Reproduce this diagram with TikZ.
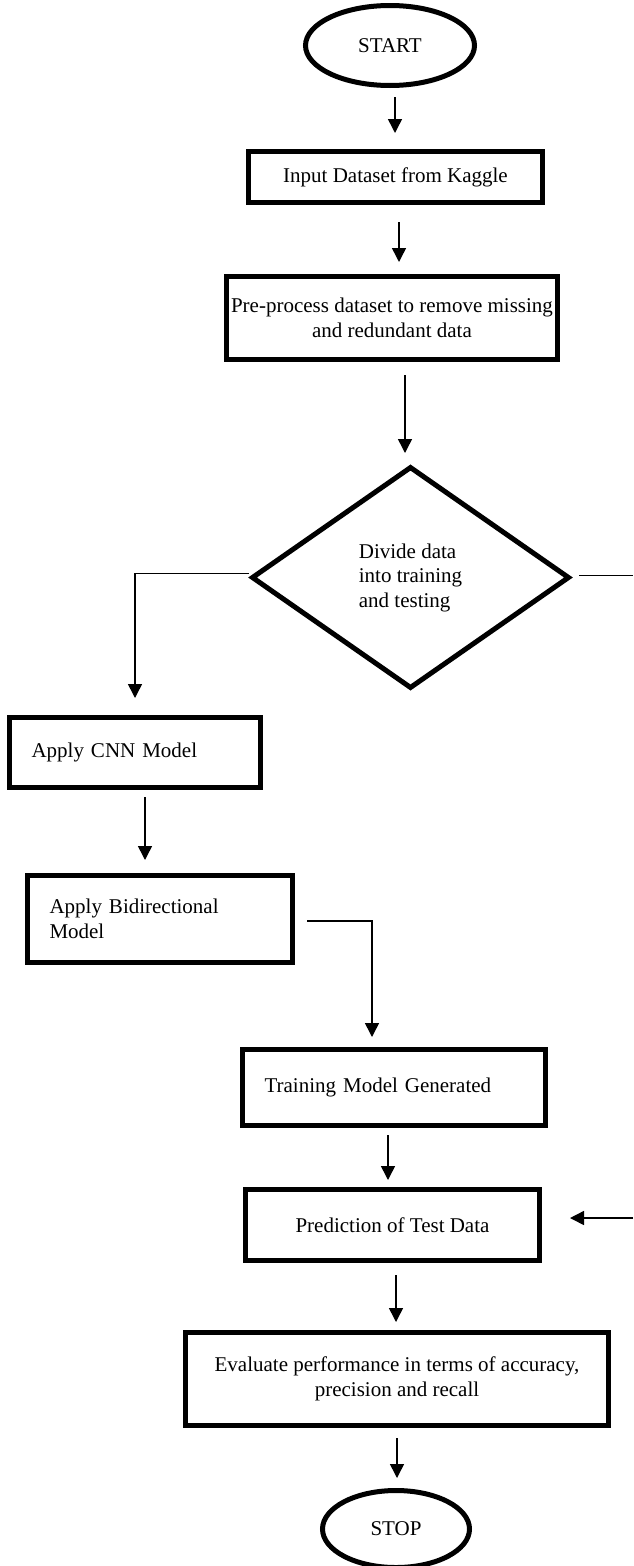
\documentclass[tikz,border=0pt]{standalone}
\usepackage{fontspec}
\setmainfont{Liberation Serif}
\usetikzlibrary{shapes.geometric,arrows.meta}
\begin{document}
\begin{tikzpicture}[x=1pt,y=-1pt,
  every node/.style={font=\fontsize{21}{24.5}\selectfont, inner sep=0pt},
  term/.style={ellipse,draw,line width=5pt},
  box/.style={rectangle,draw,line width=5pt,align=center},
  lbox/.style={rectangle,draw,line width=5pt,align=left,inner xsep=22pt},
  dec/.style={diamond,draw,line width=5pt,align=left},
  arr/.style={line width=1.5pt,-{Triangle[length=14pt,width=14pt]}},
  ln/.style={line width=1.5pt}]
\useasboundingbox (0,0) rectangle (634,1566);

\node[term, minimum width=169pt, minimum height=80pt] (start) at (390,45.5) {START};
\node[box, minimum width=294pt, minimum height=51pt] (input) at (395.5,177) {Input Dataset from Kaggle};
\node[box, minimum width=331pt, minimum height=83pt] (pre) at (392,318) {Pre-process dataset to remove missing\\and redundant data};
\node[dec, minimum width=318pt, minimum height=222pt] (dia) at (410.5,577.5) {Divide data\\into training\\and testing};
\node[lbox, text width=207pt, minimum height=70pt] (cnn) at (135,752.5) {Apply CNN Model};
\node[lbox, text width=221pt, minimum height=87pt] (bidir) at (160,919) {Apply Bidirectional\\Model};
\node[lbox, text width=259pt, minimum height=76pt] (train) at (394,1087.5) {Training Model Generated};
\node[box, minimum width=294pt, minimum height=71pt] (pred) at (392.5,1225) {Prediction of Test Data};
\node[box, minimum width=423pt, minimum height=93pt] (eval) at (397,1379) {Evaluate performance in terms of accuracy,\\precision and recall};
\node[term, minimum width=147pt, minimum height=77pt] (stop) at (396,1529) {STOP};

\coordinate (outR) at (633,575.5);
\coordinate (inR) at (633,1218);

\draw[arr] ([xshift=5pt,yshift=-9pt]start.south) -- ([xshift=-0.5pt,yshift=16pt]input.north);
\draw[arr] ([xshift=3.5pt,yshift=-17pt]input.south) -- ([xshift=7pt,yshift=12pt]pre.north);
\draw[arr] ([xshift=13pt,yshift=-13pt]pre.south) -- ([xshift=-5.5pt,yshift=11pt]dia.north);
\draw[arr] ([yshift=4pt]dia.west) -| ([yshift=17pt]cnn.north);
\draw[ln] ([xshift=7pt,yshift=2pt]dia.east) -- (outR);
\draw[arr] ([xshift=10pt,yshift=-7pt]cnn.south) -- ([xshift=-15pt,yshift=13pt]bidir.north);
\draw[arr] ([xshift=12pt,yshift=-2pt]bidir.east) -| ([xshift=-22pt,yshift=10pt]train.north);
\draw[arr] ([xshift=-6pt,yshift=-7pt]train.south) -- ([xshift=-4.5pt,yshift=7pt]pred.north);
\draw[arr] (inR) -- ([xshift=28pt,yshift=7pt]pred.east);
\draw[arr] ([xshift=3.5pt,yshift=-12pt]pred.south) -- ([xshift=-1pt,yshift=8pt]eval.north);
\draw[arr] ([yshift=-10pt]eval.south) -- ([xshift=1pt,yshift=10pt]stop.north);
\end{tikzpicture}
\end{document}
